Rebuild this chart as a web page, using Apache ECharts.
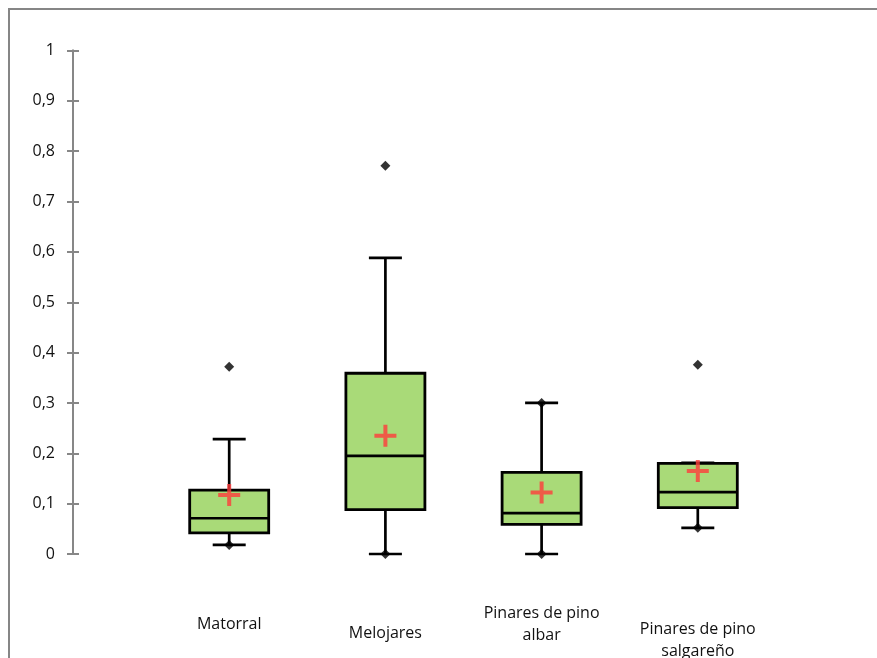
<!DOCTYPE html>
<html>
<head>
<meta charset="utf-8">
<script src="https://cdn.jsdelivr.net/npm/echarts@6/dist/echarts.min.js"></script>
<style>
html,body{margin:0;padding:0;background:#fff;}
#chart{width:877px;height:658px;}
</style>
</head>
<body>
<div id="chart"></div>
<script>
// ---- data ----
const categories = ['Matorral', 'Melojares', 'Pinares de pino\nalbar', 'Pinares de pino\nsalgareño'];
const labelOffsets = [11, 20, 0, 16];
const whiskerLow = [0.018, 0.000, 0.000, 0.052];
const q1 = [0.042, 0.088, 0.059, 0.092];
const median = [0.071, 0.195, 0.081, 0.123];
const q3 = [0.127, 0.359, 0.162, 0.180];
const whiskerHigh = [0.228, 0.588, 0.300, 0.181];
const means = [0.117, 0.235, 0.122, 0.165];
const minVals = [0.018, 0.000, 0.000, 0.052];
const maxVals = [0.372, 0.771, 0.300, 0.376];
const yTicks = [0, 0.1, 0.2, 0.3, 0.4, 0.5, 0.6, 0.7, 0.8, 0.9, 1];

const axisData = [''].concat(categories.map((c, i) => ({
  value: c,
  textStyle: { padding: [labelOffsets[i], 0, 0, 0] }
}))).concat(['']);

const boxData = categories.map((c, i) => [i + 1, whiskerLow[i], q1[i], median[i], q3[i], whiskerHigh[i]]);
const extremeData = [];
categories.forEach((c, i) => { extremeData.push([i + 1, minVals[i]]); extremeData.push([i + 1, maxVals[i]]); });
const meanData = categories.map((c, i) => [i + 1, means[i]]);

const fmt = v => String(Math.round(v * 10) / 10).replace('.', ',');

const chart = echarts.init(document.getElementById('chart'));
const yBase = {
  type: 'value', min: yTicks[0], max: yTicks[yTicks.length - 1], interval: 0.1,
  splitLine: { show: false },
  axisLine: { show: true, lineStyle: { color: '#878787', width: 2 } }
};
chart.setOption({
  animation: false,
  backgroundColor: '#ffffff',
  graphic: [{
    type: 'rect', shape: { x: 9, y: 9, width: 1000, height: 1000 },
    style: { fill: 'none', stroke: '#868686', lineWidth: 2 }, silent: true
  }],
  grid: { left: 73, right: 23, top: 50.5, bottom: 104, containLabel: false, outerBoundsMode: 'none' },
  xAxis: {
    type: 'category', boundaryGap: false, data: axisData,
    axisLine: { show: false }, axisTick: { show: false },
    axisLabel: {
      interval: 0, margin: 48, color: '#111', fontFamily: 'Open Sans', fontSize: 16,
      lineHeight: 22, align: 'center', verticalAlign: 'top'
    }
  },
  yAxis: [
    Object.assign({}, yBase, {
      axisTick: { show: true, inside: false, length: 6, lineStyle: { color: '#878787', width: 2 } },
      axisLabel: { margin: 18, color: '#111', fontFamily: 'Open Sans', fontSize: 16, formatter: fmt }
    }),
    Object.assign({}, yBase, {
      position: 'left',
      axisTick: { show: true, inside: true, length: 6, lineStyle: { color: '#878787', width: 2 } },
      axisLabel: { show: false }
    })
  ],
  series: [
    {
      type: 'custom', data: boxData, z: 2,
      renderItem: function (params, api) {
        const x = api.value(0);
        const pWL = api.coord([x, api.value(1)]);
        const pQ1 = api.coord([x, api.value(2)]);
        const pMed = api.coord([x, api.value(3)]);
        const pQ3 = api.coord([x, api.value(4)]);
        const pWH = api.coord([x, api.value(5)]);
        const cx = pQ1[0];
        const bw = 79, cw = 33;
        const stroke = { stroke: '#000', lineWidth: 2.7 };
        return {
          type: 'group', children: [
            { type: 'line', shape: { x1: cx, y1: pQ3[1], x2: cx, y2: pWH[1] }, style: stroke },
            { type: 'line', shape: { x1: cx, y1: pQ1[1], x2: cx, y2: pWL[1] }, style: stroke },
            { type: 'line', shape: { x1: cx - cw / 2, y1: pWH[1], x2: cx + cw / 2, y2: pWH[1] }, style: stroke },
            { type: 'line', shape: { x1: cx - cw / 2, y1: pWL[1], x2: cx + cw / 2, y2: pWL[1] }, style: stroke },
            { type: 'rect', shape: { x: cx - bw / 2, y: pQ3[1], width: bw, height: pQ1[1] - pQ3[1] },
              style: { fill: '#a9da78', stroke: '#000', lineWidth: 2.8 } },
            { type: 'line', shape: { x1: cx - bw / 2, y1: pMed[1], x2: cx + bw / 2, y2: pMed[1] }, style: stroke }
          ]
        };
      }
    },
    {
      type: 'scatter', data: extremeData, z: 3,
      symbol: 'diamond', symbolSize: 10,
      itemStyle: { color: '#000' }
    },
    {
      type: 'scatter', data: meanData, z: 4,
      symbol: 'path://M9,0h4v9h9v4h-9v9h-4v-9h-9v-4h9z', symbolSize: [22, 22],
      itemStyle: { color: '#ff3b3b' }
    }
  ]
});
</script>
</body>
</html>
